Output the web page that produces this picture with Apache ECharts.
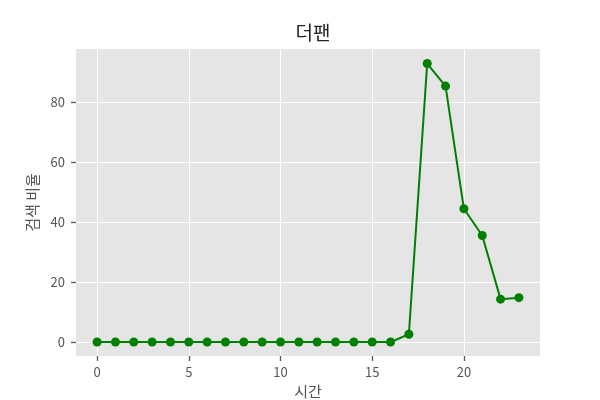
<!DOCTYPE html>
<html>
<head>
<meta charset="utf-8">
<script src="https://cdn.jsdelivr.net/npm/echarts@6/dist/echarts.min.js"></script>
<style>html,body{margin:0;padding:0;background:#fff}#c{width:600px;height:400px}</style>
</head>
<body>
<div id="c"></div>
<script>
const hours = [0,1,2,3,4,5,6,7,8,9,10,11,12,13,14,15,16,17,18,19,20,21,22,23];
const values = [0,0,0,0,0,0,0,0,0,0,0,0,0,0,0,0,0,2.6,92.8,85.3,44.4,35.5,14.3,14.8];
const xTicks = [0,5,10,15,20];
const yTicks = [0,20,40,60,80];
const titleText = '더팬';
const xName = '시간';
const yName = '검색 비율';

const font = 'Noto Sans CJK KR';
const chart = echarts.init(document.getElementById('c'), null, {renderer:'canvas'});
chart.setOption({
  backgroundColor:'#fff',
  animation:false,
  title:{text:titleText,left:308,top:18,textAlign:'center',textStyle:{fontFamily:font,fontSize:19,fontWeight:'normal',color:'#222'}},
  grid:{left:76,right:60,top:49,bottom:44,show:true,backgroundColor:'#E5E5E5',borderWidth:0,containLabel:false,outerBoundsMode:'none'},
  xAxis:{type:'value',min:-1.15,max:24.15,position:'bottom',
    name:xName,nameLocation:'middle',nameGap:28,nameTextStyle:{fontFamily:font,fontSize:15,color:'#555'},
    axisLine:{show:false,onZero:false},
    axisTick:{show:true,inside:false,length:5,lineStyle:{color:'#555',width:1.3},customValues:xTicks},
    axisLabel:{fontFamily:font,fontSize:13,color:'#555',margin:10,customValues:xTicks},
    splitLine:{show:true,lineStyle:{color:'#fff',width:1}}},
  yAxis:{type:'value',min:-4.65,max:97.65,position:'left',
    name:yName,nameLocation:'middle',nameRotate:90,nameGap:36,nameTextStyle:{fontFamily:font,fontSize:15,color:'#555'},
    axisLine:{show:false,onZero:false},
    axisTick:{show:true,inside:false,length:5,lineStyle:{color:'#555',width:1.3},customValues:yTicks},
    axisLabel:{fontFamily:font,fontSize:13,color:'#555',margin:11,customValues:yTicks},
    splitLine:{show:true,lineStyle:{color:'#fff',width:1}}},
  series:[{type:'line',data:hours.map((h,i)=>[h,values[i]]),
    symbol:'circle',symbolSize:9,itemStyle:{color:'#008000'},
    lineStyle:{color:'#008000',width:2}}]
});
</script>
</body>
</html>
